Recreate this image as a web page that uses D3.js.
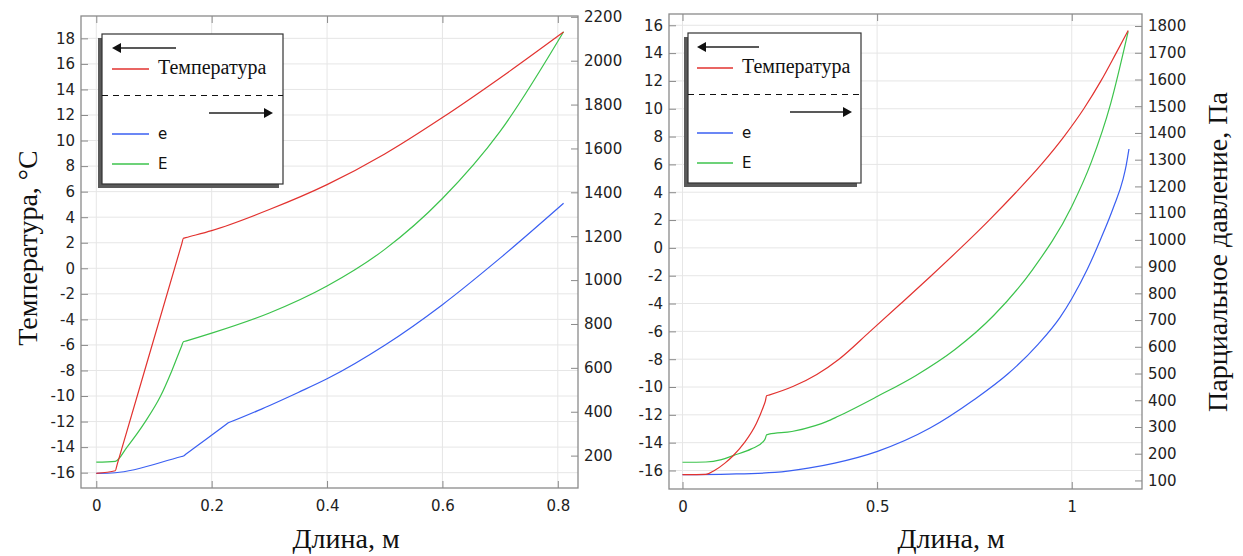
<!DOCTYPE html>
<html>
<head>
<meta charset="utf-8">
<script src="https://cdn.jsdelivr.net/npm/d3@7"></script>
<style>
  body { margin: 0; background: #fff; }
  .tick text { font-family: "DejaVu Sans", sans-serif; font-size: 15px; fill: #222; }
  .tick line { stroke: #8a8a8a; }
  .title { font-family: "Liberation Serif", "Times New Roman", serif; font-size: 28px; fill: #111; }
  .leg-serif { font-family: "Liberation Serif", "Times New Roman", serif; font-size: 20px; fill: #111; }
  .leg-sans { font-family: "DejaVu Sans", sans-serif; font-size: 15px; fill: #111; }
</style>
</head>
<body>
<svg width="1243" height="556"></svg>
<script>
var svg = d3.select("svg");

// ---- left chart: length (m) vs temperature (left axis) and e / E (Pa, right axis)
var lenA_T = [0, 0.033, 0.036, 0.148, 0.151, 0.155, 0.2, 0.3, 0.4, 0.5, 0.6, 0.7, 0.81];
var tempA  = [-16.05, -15.85, -15.39, 1.89, 2.35, 2.4, 2.95, 4.6, 6.55, 8.95, 11.8, 14.9, 18.5];

var lenA_e = [0, 0.033, 0.148, 0.151, 0.155, 0.226, 0.229, 0.232, 0.28, 0.35, 0.4, 0.5, 0.6, 0.7, 0.81];
var eA     = [119, 122, 196, 198, 206, 344, 350, 353, 405, 488, 550, 703, 888, 1100, 1350];

var lenA_E = [0, 0.033, 0.053, 0.085, 0.111, 0.131, 0.148, 0.151, 0.155, 0.2, 0.3, 0.4, 0.5, 0.6, 0.7, 0.81];
var EA     = [170, 174, 238, 355, 469, 587, 700, 719, 722, 758, 850, 973, 1140, 1372, 1678, 2132];

// ---- right chart
var lenB_T = [0, 0.06, 0.082, 0.109, 0.13, 0.159, 0.19, 0.208, 0.213, 0.216, 0.222, 0.285, 0.345, 0.402, 0.482, 0.561, 0.639, 0.715, 0.788, 0.857, 0.922, 0.98, 1.031, 1.075, 1.114, 1.145];
var tempB  = [-16.3, -16.28, -16.0, -15.47, -14.94, -14.0, -12.6, -11.4, -11.0, -10.63, -10.58, -9.95, -9.1, -8.0, -6.0, -4.0, -2.0, 0.0, 2.0, 4.0, 6.0, 8.0, 10.0, 12.0, 14.0, 15.62];

var lenB_e = [0, 0.12, 0.237, 0.323, 0.391, 0.501, 0.636, 0.747, 0.837, 0.914, 0.97, 1.0, 1.04, 1.075, 1.108, 1.132, 1.14, 1.147];
var eB     = [122, 124, 130, 146, 165, 209, 296, 400, 500, 610, 710, 780, 890, 1005, 1125, 1228, 1280, 1340];

var lenB_E = [0, 0.06, 0.1, 0.13, 0.177, 0.208, 0.213, 0.216, 0.222, 0.281, 0.341, 0.37, 0.4, 0.5, 0.6, 0.7, 0.8, 0.9, 1.0, 1.05, 1.1, 1.145];
var EB     = [168, 169, 178, 193, 218, 246, 258, 271, 273, 283, 305, 320, 340, 414, 493, 590, 718, 890, 1125, 1290, 1510, 1780];

// ---- ticks
var lenTicksA  = [0, 0.2, 0.4, 0.6, 0.8];
var tempTicksA = [-16, -14, -12, -10, -8, -6, -4, -2, 0, 2, 4, 6, 8, 10, 12, 14, 16, 18];
var presTicksA = [200, 400, 600, 800, 1000, 1200, 1400, 1600, 1800, 2000, 2200];

var lenTicksB  = [0, 0.5, 1];
var tempTicksB = [-16, -14, -12, -10, -8, -6, -4, -2, 0, 2, 4, 6, 8, 10, 12, 14, 16];
var presTicksB = [100, 200, 300, 400, 500, 600, 700, 800, 900, 1000, 1100, 1200, 1300, 1400, 1500, 1600, 1700, 1800];

var legendLabels = ["Температура", "e", "E"];
var colors = { T: "#e2322f", e: "#3a5ff2", E: "#3cc34c" };

var xTitle = "Длина, м";
var yTitleLeft = "Температура, °C";
var yTitleRight = "Парциальное давление, Па";

function zip(a, b) { return a.map(function(v, i) { return [v, b[i]]; }); }

function drawPanel(p) {
  var x  = d3.scaleLinear().domain(p.xDomain).range([p.left, p.right]);
  var yT = d3.scaleLinear().domain(p.tDomain).range([p.bottom, p.top]);
  var yP = d3.scaleLinear().domain(p.pDomain).range([p.bottom, p.top]);

  var g = svg.append("g");

  // grid
  g.append("g").selectAll("line").data(p.xTicks).enter().append("line")
      .attr("x1", function(d) { return x(d); }).attr("x2", function(d) { return x(d); })
      .attr("y1", p.top).attr("y2", p.bottom)
      .attr("stroke", "#e6e6e6");
  g.append("g").selectAll("line").data(p.tTicks).enter().append("line")
      .attr("y1", function(d) { return yT(d); }).attr("y2", function(d) { return yT(d); })
      .attr("x1", p.left).attr("x2", p.right)
      .attr("stroke", "#e6e6e6");

  // curves
  var lineT = d3.line().x(function(d) { return x(d[0]); }).y(function(d) { return yT(d[1]); }).curve(d3.curveMonotoneX);
  var lineP = d3.line().x(function(d) { return x(d[0]); }).y(function(d) { return yP(d[1]); }).curve(d3.curveMonotoneX);

  g.append("path").datum(zip(p.lenE, p.E)).attr("d", lineP)
      .attr("fill", "none").attr("stroke", colors.E).attr("stroke-width", 1.2);
  g.append("path").datum(zip(p.lene, p.e)).attr("d", lineP)
      .attr("fill", "none").attr("stroke", colors.e).attr("stroke-width", 1.2);
  g.append("path").datum(zip(p.lenT, p.T)).attr("d", lineT)
      .attr("fill", "none").attr("stroke", colors.T).attr("stroke-width", 1.2);

  // axes (ticks point inwards, like the original)
  var fmt = function(d) { return String(d); };
  g.append("g").attr("transform", "translate(" + p.left + ",0)")
      .call(d3.axisLeft(yT).tickValues(p.tTicks).tickFormat(fmt).tickSizeInner(-7).tickSizeOuter(0).tickPadding(6))
      .call(function(a) { a.select(".domain").remove(); });
  g.append("g").attr("transform", "translate(" + p.right + ",0)")
      .call(d3.axisRight(yP).tickValues(p.pTicks).tickFormat(fmt).tickSizeInner(-7).tickSizeOuter(0).tickPadding(6))
      .call(function(a) { a.select(".domain").remove(); });
  g.append("g").attr("transform", "translate(0," + p.bottom + ")")
      .call(d3.axisBottom(x).tickValues(p.xTicks).tickFormat(fmt).tickSizeInner(-7).tickSizeOuter(0).tickPadding(12))
      .call(function(a) { a.select(".domain").remove(); });
  g.append("g").attr("transform", "translate(0," + p.top + ")")
      .call(d3.axisTop(x).tickValues(p.xTicks).tickFormat("").tickSizeInner(-7).tickSizeOuter(0))
      .call(function(a) { a.select(".domain").remove(); });

  // frame
  g.append("rect")
      .attr("x", p.left).attr("y", p.top)
      .attr("width", p.right - p.left).attr("height", p.bottom - p.top)
      .attr("fill", "none").attr("stroke", "#8a8a8a").attr("stroke-width", 1.3);

  // titles
  g.append("text").attr("class", "title").attr("text-anchor", "middle")
      .attr("x", p.xTitleX).attr("y", 548).text(xTitle);
  if (p.yLeftTitle) {
    g.append("text").attr("class", "title").attr("text-anchor", "middle")
        .attr("transform", "translate(37,248) rotate(-90)").text(yTitleLeft);
  }
  if (p.yRightTitle) {
    g.append("text").attr("class", "title").attr("text-anchor", "middle")
        .attr("transform", "translate(1227,252) rotate(-90)").text(yTitleRight);
  }

  drawLegend(p.legend);
}

function drawLegend(L) {
  var g = svg.append("g").attr("transform", "translate(" + L.x + "," + L.y + ")");
  // shadow + box
  g.append("rect").attr("x", -4).attr("y", 4).attr("width", L.w).attr("height", L.h).attr("fill", "#5a5a5a");
  g.append("rect").attr("x", 0).attr("y", 0).attr("width", L.w).attr("height", L.h)
      .attr("fill", "#fff").attr("stroke", "#333").attr("stroke-width", 1.2);

  // left arrow (temperature axis)
  g.append("line").attr("x1", L.pad + 6).attr("x2", L.pad + L.arrow).attr("y1", 14).attr("y2", 14)
      .attr("stroke", "#222").attr("stroke-width", 1.6);
  g.append("path").attr("d", "M" + L.pad + ",14 l9,-5 l0,10 z").attr("fill", "#111");

  // dashed divider
  g.append("line").attr("x1", 0).attr("x2", L.w).attr("y1", 61.5).attr("y2", 61.5)
      .attr("stroke", "#111").attr("stroke-dasharray", "6,5").attr("stroke-width", 1.2);

  // right arrow (pressure axis)
  var tip = L.w - L.pad;
  g.append("line").attr("x1", tip - L.arrow).attr("x2", tip - 6).attr("y1", 79).attr("y2", 79)
      .attr("stroke", "#222").attr("stroke-width", 1.6);
  g.append("path").attr("d", "M" + tip + ",79 l-9,-5 l0,10 z").attr("fill", "#111");

  var items = [
    { c: colors.T, y: 35, label: legendLabels[0], cls: "leg-serif" },
    { c: colors.e, y: 100, label: legendLabels[1], cls: "leg-sans" },
    { c: colors.E, y: 130, label: legendLabels[2], cls: "leg-sans" }
  ];
  var it = g.selectAll("g.item").data(items).enter().append("g").attr("class", "item");
  it.append("line").attr("x1", L.pad).attr("x2", L.pad + L.sw)
      .attr("y1", function(d) { return d.y; }).attr("y2", function(d) { return d.y; })
      .attr("stroke", function(d) { return d.c; }).attr("stroke-width", 1.4);
  it.append("text").attr("class", function(d) { return d.cls; })
      .attr("x", L.pad + L.sw + 9).attr("y", function(d) { return d.y + 5; })
      .text(function(d) { return d.label; });
}

drawPanel({
  left: 81, right: 578, top: 16, bottom: 488,
  xDomain: [-0.0265, 0.835], tDomain: [-17.2, 19.75], pDomain: [52.4, 2203.7],
  xTicks: lenTicksA, tTicks: tempTicksA, pTicks: presTicksA,
  lenT: lenA_T, T: tempA, lene: lenA_e, e: eA, lenE: lenA_E, E: EA,
  xTitleX: 346, yLeftTitle: true, yRightTitle: false,
  legend: { x: 102, y: 34, w: 181, h: 150, pad: 10, sw: 37, arrow: 64 }
});

drawPanel({
  left: 669, right: 1142, top: 14, bottom: 489,
  xDomain: [-0.0347, 1.1805], tDomain: [-17.33, 16.81], pDomain: [68, 1845],
  xTicks: lenTicksB, tTicks: tempTicksB, pTicks: presTicksB,
  lenT: lenB_T, T: tempB, lene: lenB_e, e: eB, lenE: lenB_E, E: EB,
  xTitleX: 951, yLeftTitle: false, yRightTitle: true,
  legend: { x: 688, y: 33, w: 173, h: 150, pad: 9, sw: 36, arrow: 62 }
});
</script>
</body>
</html>
